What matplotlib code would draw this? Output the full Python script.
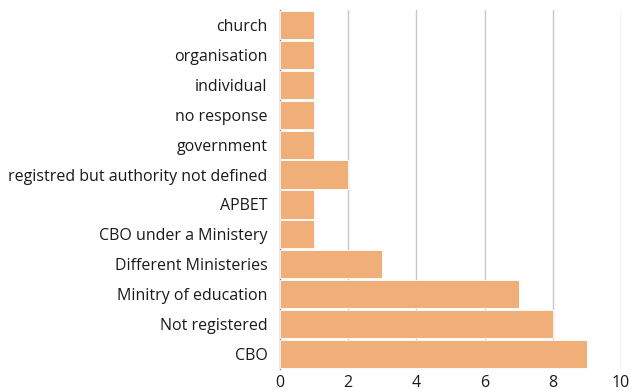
import matplotlib
matplotlib.use("Agg")
from matplotlib import pyplot as plt

categories = ['church', 'organisation', 'individual', 'no response', 'government',
              'registred but authority not defined', 'APBET', 'CBO under a Ministery',
              'Different Ministeries', 'Minitry of education', 'Not registered', 'CBO']
values = [1, 1, 1, 1, 1, 2, 1, 1, 3, 7, 8, 9]
x_ticks = [0, 2, 4, 6, 8, 10]

plt.rcParams['font.family'] = ['Open Sans', 'DejaVu Sans']

fig = plt.figure(figsize=(6.31, 3.91), dpi=100)
ax = fig.add_axes([280 / 631, 22 / 391, 341 / 631, 359 / 391])

pos = list(range(len(categories)))[::-1]
ax.barh(pos, values, height=0.94, color='#F0AE78', edgecolor='white', linewidth=0.6, zorder=3)

ax.set_xlim(0, 10)
ax.set_ylim(-0.5, len(categories) - 0.5)
ax.set_xticks(x_ticks)
ax.set_yticks(pos)
ax.set_yticklabels(categories)
ax.tick_params(axis='both', length=0, labelsize=11.5, colors='#1a1a1a')
ax.tick_params(axis='y', pad=9)
ax.tick_params(axis='x', pad=4)

ax.grid(axis='x', color='#C8C8C8', linewidth=1, zorder=0)
for side in ['top', 'right', 'bottom']:
    ax.spines[side].set_visible(False)
ax.spines['left'].set_color('#888888')
ax.spines['left'].set_linewidth(1)

fig.savefig('out.png', dpi=100)
